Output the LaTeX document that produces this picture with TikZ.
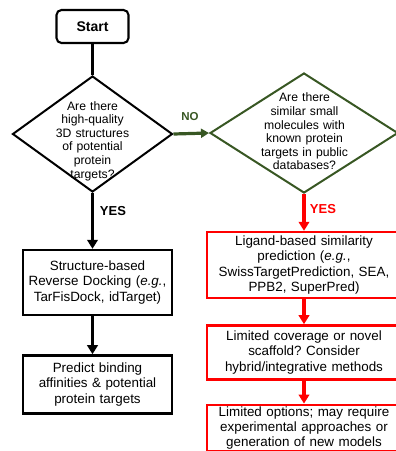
\documentclass[tikz,border=0pt]{standalone}
\usepackage{fontspec}
\setmainfont{Liberation Sans}
\frenchspacing
\usetikzlibrary{shapes.geometric, arrows.meta, positioning}
\definecolor{nogreen}{RGB}{56,87,35}
\definecolor{yesred}{RGB}{255,0,0}
\tikzstyle{startstop} = [rectangle, rounded corners=5pt, minimum width=72pt, minimum height=33pt, text centered, draw=black, line width=2.1pt, font=\fontsize{14}{16}\selectfont\bfseries]
\tikzstyle{decision} = [diamond, inner sep=0pt, draw=black, line width=2pt]
\tikzstyle{decisiontext} = [text width=100pt, align=center, inner sep=0pt, font=\fontsize{12.2}{13.6}\selectfont]
\tikzstyle{process} = [rectangle, minimum width=149pt, text width=145pt, inner xsep=2pt, align=center, draw=black, line width=2.4pt, font=\fontsize{13.4}{15.6}\selectfont]
\tikzstyle{redprocess} = [process, draw=yesred, minimum width=194pt, text width=190pt]
\tikzstyle{arrow} = [line width=3.6pt, -{Triangle[length=9pt,width=10.5pt]}]
\tikzstyle{answer} = [inner sep=0pt, font=\fontsize{13}{15}\selectfont\bfseries]

\begin{document}
\begin{tikzpicture}[x=1pt, y=1pt]
\useasboundingbox (0,0) rectangle (396,-451);
\clip (0,0) rectangle (396,-451);

% left branch
\node (start) [startstop] at (92.5,-26.5) {Start};
\node (q1text) [decisiontext] at (92.5,-141) {Are there\\high-quality\\3D structures\\of potential\\protein\\targets?};
\node (q1) [decision, minimum width=160pt, minimum height=116pt] at (92.5,-134) {};
\node (dock) [process, minimum height=65pt] at (97.5,-282.5) {Structure-based\\Reverse Docking (\textit{e.g.},\\TarFisDock, idTarget)};
\node (predict) [process, minimum height=58pt, below=38pt of dock] {Predict binding\\affinities \& potential\\protein targets};

% right branch
\node (q2text) [decisiontext] at (304.5,-131.5) {Are there\\similar small\\molecules with\\known protein\\targets in public\\databases?};
\node (q2) [decision, draw=nogreen, minimum width=188pt, minimum height=120pt] at (304,-133) {};
\node (ligand) [redprocess, minimum height=66pt] at (304,-265) {Ligand-based similarity\\prediction (\textit{e.g.},\\SwissTargetPrediction, SEA,\\PPB2, SuperPred)};
\node (coverage) [redprocess, minimum height=54pt, below=25pt of ligand] {Limited coverage or novel\\scaffold? Consider\\hybrid/integrative methods};
\node (options) [redprocess, inner ysep=2pt, font=\fontsize{13.4}{15}\selectfont, below=23pt of coverage] {Limited options; may require\\experimental approaches or\\generation of new models\par\vspace{8pt}};

\draw[line width=2.1pt] (start) -- (q1);
\draw[arrow] (q1.south) -- (q1.south |- dock.north);
\draw[arrow] (dock.south -| q1.south) -- (predict.north -| q1.south);
\draw[arrow, nogreen, line width=3.2pt, -{Triangle[length=8pt,width=9pt]}] (q1.east) -- (q2.west);
\draw[arrow, yesred] (q2.south) -- (ligand.north);
\draw[arrow, yesred] (ligand) -- (coverage);
\draw[arrow, yesred] (coverage) -- (options);

\node (no) [answer, nogreen, font=\fontsize{11.5}{13}\selectfont\bfseries] at (190,-117) {NO};
\node (yes1) [answer] at (113,-211) {YES};
\node (yes2) [answer, yesred] at (323,-209) {YES};
\end{tikzpicture}
\end{document}
